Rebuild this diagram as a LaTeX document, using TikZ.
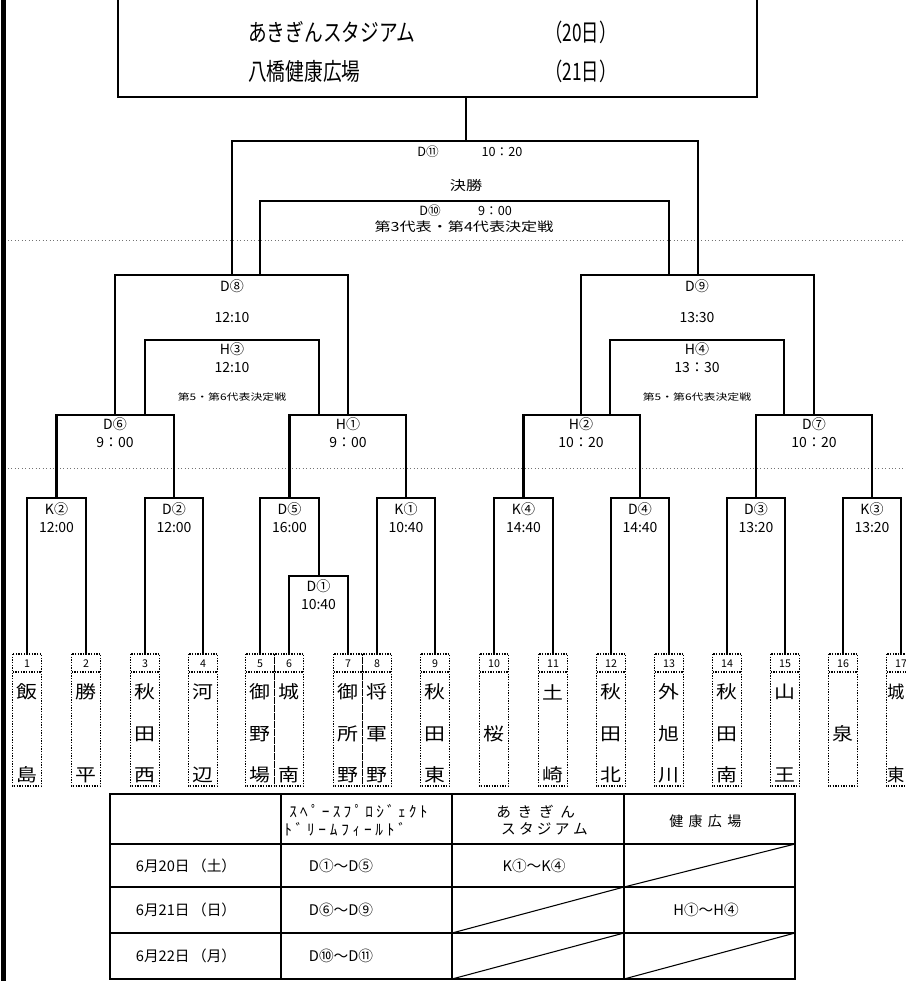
\documentclass[tikz,border=0pt]{standalone}
\usepackage{fontspec}
\setmainfont{Noto Sans CJK JP}
\usepackage{graphicx}
\newcommand\fs[1]{\fontsize{#1}{#1}\selectfont}
\def\trkgap{3pt}
\def\trk#1{\ifx#1\relax\else#1\hspace{\trkgap}\expandafter\trk\fi}
\newcommand\spaced[2]{{\def\trkgap{#1}\trk #2\relax\hspace{-#1}}}
\tikzset{
  brk/.style={line width=1.6pt, line join=miter, line cap=rect},
  tbox/.style={densely dotted, line width=1pt},
  guide/.style={dotted, line width=0.6pt, black!55},
  tbl/.style={line width=1.4pt},
  diag/.style={line width=0.8pt},
  lbl/.style={inner sep=0pt, font=\fs{10.5pt}},
  small/.style={inner sep=0pt, font=\fs{8.5pt}},
  num/.style={inner sep=0pt, font=\fs{8pt}},
  nm/.style={inner sep=0pt, font=\fs{14pt}},
  cell/.style={inner sep=0pt, font=\fs{11pt}},
}
\newcommand\team[7]{%
  \draw[tbox] (#2-14.5,654) rectangle (#2+14.5,786);
  \draw[tbox] (#2-14.5,672) -- (#2+14.5,672);
  \coordinate (#1) at (#2,654);
  \node[num] (#1n) at (#2,663.5) {#3};
  \node[nm] (#1a) at (#7,692) {\scalebox{1.12}[0.95]{#4}};
  \node[nm] (#1b) at (#7,734) {\scalebox{1.12}[0.95]{#5}};
  \node[nm] (#1c) at (#7,775) {\scalebox{1.12}[0.95]{#6}};
}
\begin{document}
\begin{tikzpicture}[x=0.75pt,y=-0.75pt]
\useasboundingbox (0,0) rectangle (906,981);
\clip (0,0) rectangle (906,981);
\fill[white] (0,0) rectangle (906,981);

% left bar
\fill[black] (1,0) rectangle (6,981);

% guide lines
\draw[guide] (8,240) -- (906,240);
\draw[guide] (8,468) -- (906,468);

% top box
\draw[brk] (118,-5) -- (118,97) -- (757,97) -- (757,-5);
\node[inner sep=0pt, anchor=west] (ti1) at (248,32) {\fs{18pt}\scalebox{0.78}[1]{あきぎんスタジアム}};
\node[inner sep=0pt, anchor=west] (ti2) at (545,32) {\fs{18pt}\scalebox{0.72}[1]{（20日）}};
\node[inner sep=0pt, anchor=west] (ti3) at (248,71) {\fs{18pt}\scalebox{0.78}[1]{八橋健康広場}};
\node[inner sep=0pt, anchor=west] (ti4) at (545,71) {\fs{18pt}\scalebox{0.72}[1]{（21日）}};

% teams
\team{t1}{27}{1}{飯}{}{島}{27}
\team{t2}{86}{2}{勝}{}{平}{86}
\team{t3}{145}{3}{秋}{田}{西}{145}
\team{t4}{203}{4}{河}{}{辺}{203}
\team{t5}{260}{5}{御}{野}{場}{260}
\team{t6}{289}{6}{城}{}{南}{289}
\team{t7}{348}{7}{御}{所}{野}{348}
\team{t8}{377}{8}{将}{軍}{野}{377}
\team{t9}{435}{9}{秋}{田}{東}{435}
\team{t10}{494}{10}{}{桜}{}{494}
\team{t11}{553}{11}{土}{}{崎}{553}
\team{t12}{611}{12}{秋}{田}{北}{611}
\team{t13}{669}{13}{外}{旭}{川}{669}
\team{t14}{727}{14}{秋}{田}{南}{727}
\team{t15}{785}{15}{山}{}{王}{785}
\team{t16}{843}{16}{}{泉}{}{843}
\team{t17}{901}{17}{}{}{}{901}
\node[inner sep=0pt, font=\fs{13pt}] (t17a) at (896,692) {城};
\node[inner sep=0pt, font=\fs{13pt}] (t17c) at (896,775) {東};

% first round brackets
\draw[brk] (t1) -- (27,498) -- (86,498) -- (t2);
\draw[brk] (t3) -- (145,498) -- (203,498) -- (t4);
\draw[brk] (t5) -- (260,498) -- (319,498) -- (319,576);
\draw[brk] (t6) -- (289,576) -- (348,576) -- (t7);
\draw[brk] (t8) -- (377,498) -- (435,498) -- (t9);
\draw[brk] (t10) -- (494,498) -- (553,498) -- (t11);
\draw[brk] (t12) -- (611,498) -- (669,498) -- (t13);
\draw[brk] (t14) -- (727,498) -- (785,498) -- (t15);
\draw[brk] (t16) -- (843,498) -- (901,498) -- (t17);

% second round
\draw[brk] (56.5,498) -- (56.5,415) -- (174,415) -- (174,498);
\draw[brk] (289.5,498) -- (289.5,415) -- (406,415) -- (406,498);
\draw[brk] (523.5,498) -- (523.5,415) -- (640,415) -- (640,498);
\draw[brk] (756,498) -- (756,415) -- (872,415) -- (872,498);

% semi-final / placement
\draw[brk] (115,415) -- (115,275) -- (348,275) -- (348,415);
\draw[brk] (145,415) -- (145,340) -- (319,340) -- (319,415);
\draw[brk] (581,415) -- (581,275) -- (814,275) -- (814,415);
\draw[brk] (610,415) -- (610,340) -- (784,340) -- (784,415);

% final and 3rd place
\draw[brk] (232,275) -- (232,141) -- (698,141) -- (698,275);
\draw[brk] (260,275) -- (260,201) -- (669,201) -- (669,275);
\draw[brk] (466,97) -- (466,141);

% labels
\node[lbl, font=\fs{9.5pt}] (l11a) at (428,152) {D⑪};
\node[lbl, font=\fs{9.5pt}] (l11b) at (502,152) {10：20};
\node[lbl, font=\fs{11pt}] (l11c) at (466,185) {\scalebox{1.1}[0.9]{決勝}};
\node[lbl, font=\fs{9.5pt}] (l10a) at (430,211) {D⑩};
\node[lbl, font=\fs{9.5pt}] (l10b) at (495,211) {9：00};
\node[lbl, font=\fs{10.5pt}] (l10c) at (464,227) {\scalebox{1.15}[0.9]{第3代表・第4代表決定戦}};

\node[lbl] (l8a) at (232,286) {D⑧};
\node[lbl] (l8b) at (232,318) {12:10};
\node[lbl] (lh3a) at (232,349) {H③};
\node[lbl] (lh3b) at (232,368) {12:10};
\node[small] (lh3c) at (232,397) {\scalebox{1.05}[0.8]{第5・第6代表決定戦}};
\node[lbl] (l9a) at (697,286) {D⑨};
\node[lbl] (l9b) at (697,318) {13:30};
\node[lbl] (lh4a) at (697,349) {H④};
\node[lbl] (lh4b) at (697,368) {13：30};
\node[small] (lh4c) at (697,397) {\scalebox{1.05}[0.8]{第5・第6代表決定戦}};

\node[lbl] (l6a) at (115,424) {D⑥};
\node[lbl] (l6b) at (115,443) {9：00};
\node[lbl] (lh1a) at (348,424) {H①};
\node[lbl] (lh1b) at (348,443) {9：00};
\node[lbl] (lh2a) at (581,424) {H②};
\node[lbl] (lh2b) at (581,443) {10：20};
\node[lbl] (l7a) at (814,424) {D⑦};
\node[lbl] (l7b) at (814,443) {10：20};

\node[lbl] (lk2a) at (56.5,509) {K②};
\node[lbl] (lk2b) at (56.5,528) {12:00};
\node[lbl] (ld2a) at (174,509) {D②};
\node[lbl] (ld2b) at (174,528) {12:00};
\node[lbl] (ld5a) at (289.5,509) {D⑤};
\node[lbl] (ld5b) at (289.5,528) {16:00};
\node[lbl] (lk1a) at (406,509) {K①};
\node[lbl] (lk1b) at (406,528) {10:40};
\node[lbl] (lk4a) at (523.5,509) {K④};
\node[lbl] (lk4b) at (523.5,528) {14:40};
\node[lbl] (ld4a) at (640,509) {D④};
\node[lbl] (ld4b) at (640,528) {14:40};
\node[lbl] (ld3a) at (756,509) {D③};
\node[lbl] (ld3b) at (756,528) {13:20};
\node[lbl] (lk3a) at (872,509) {K③};
\node[lbl] (lk3b) at (872,528) {13:20};
\node[lbl] (ld1a) at (318.5,586) {D①};
\node[lbl] (ld1b) at (318.5,605) {10:40};

% table
\fill[white] (110,794) rectangle (795,979);
\draw[tbl] (110,794) rectangle (795,979);
\draw[tbl] (281,794) -- (281,979);
\draw[tbl] (452,794) -- (452,979);
\draw[tbl] (624,794) -- (624,979);
\draw[tbl] (110,844) -- (795,844);
\draw[tbl] (110,887) -- (795,887);
\draw[tbl] (110,933) -- (795,933);
\draw[diag] (624,887) -- (795,844);
\draw[diag] (452,933) -- (624,887);
\draw[diag] (452,979) -- (624,933);
\draw[diag] (624,979) -- (795,933);

\node[cell, font=\fs{11.5pt}] (h2a) at (360,811) {\spaced{2.4pt}{ｽﾍﾟｰｽﾌﾟﾛｼﾞｪｸﾄ}};
\node[cell, font=\fs{11.5pt}] (h2b) at (347,829) {\spaced{2.8pt}{ﾄﾞﾘｰﾑﾌｨｰﾙﾄﾞ}};
\node[cell, font=\fs{11pt}] (h3a) at (539,812) {\spaced{5pt}{あきぎん}};
\node[cell, font=\fs{11pt}] (h3b) at (546,829) {\spaced{2.5pt}{スタジアム}};
\node[cell, font=\fs{10.5pt}] (h4) at (708,821) {\spaced{4pt}{健康広場}};

\node[cell] (r1a) at (186,866) {6月20日\,（土）};
\node[cell] (r2a) at (186,910) {6月21日\,（日）};
\node[cell] (r3a) at (186,956) {6月22日\,（月）};
\node[cell] (r1b) at (341,866) {D①～D⑤};
\node[cell] (r2b) at (341,910) {D⑥～D⑨};
\node[cell] (r3b) at (341,956) {D⑩～D⑪};
\node[cell] (r1c) at (534,866) {K①～K④};
\node[cell] (r2d) at (706,910) {H①～H④};
\end{tikzpicture}
\end{document}
